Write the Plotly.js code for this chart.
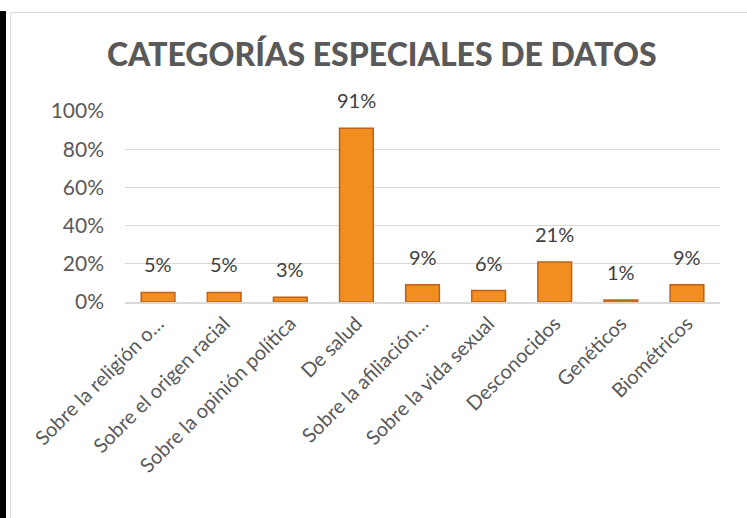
<!DOCTYPE html>
<html>
<head>
<meta charset="utf-8">
<script src="https://cdn.plot.ly/plotly-3.0.1.min.js"></script>
<style>
  html, body { margin: 0; padding: 0; background: #fff; }
  #wrap { position: relative; width: 747px; height: 518px; overflow: hidden; }
  #blackbar { position: absolute; left: 0; top: 11px; width: 6px; height: 507px; background: #000; }
  #frame { position: absolute; left: 10px; top: 12px; width: 740px; height: 520px; border: 1px solid #d9d9d9; box-sizing: border-box; }
  #chart { position: absolute; left: 0; top: 0; width: 747px; height: 518px; }
</style>
</head>
<body>
<div id="wrap">
  <div id="blackbar"></div>
  <div id="frame"></div>
  <div id="chart"></div>
</div>
<script>
const categories = [
  "Sobre la religión o…",
  "Sobre el origen racial",
  "Sobre la opinión política",
  "De salud",
  "Sobre la afiliación…",
  "Sobre la vida sexual",
  "Desconocidos",
  "Genéticos",
  "Biométricos"
];
const values = [0.05, 0.05, 0.025, 0.91, 0.09, 0.06, 0.21, 0.01, 0.09];
const labels = ["5%", "5%", "3%", "91%", "9%", "6%", "21%", "1%", "9%"];
const yTickVals = [0, 0.2, 0.4, 0.6, 0.8, 1.0];
const yTickText = ["0%", "20%", "40%", "60%", "80%", "100%"];

const FONT = "Lato, 'Open Sans', sans-serif";
const GRAY = "#595959";

const trace = {
  type: "bar",
  x: categories,
  y: values,
  marker: { color: "#F28E1F", line: { color: "#BF6119", width: 1.5 } },
  hoverinfo: "skip"
};

const annotations = categories.map((c, i) => ({
  x: c, y: values[i], xref: "x", yref: "y",
  text: labels[i], showarrow: false,
  yanchor: "bottom", yshift: 14,
  font: { family: FONT, size: 20, color: "#404040" }
}));

const layout = {
  width: 747, height: 518,
  paper_bgcolor: "rgba(0,0,0,0)",
  plot_bgcolor: "rgba(0,0,0,0)",
  margin: { l: 125, r: 27, t: 111, b: 216 },
  bargap: 0.49,
  showlegend: false,
  title: {
    text: "CATEGORÍAS ESPECIALES DE DATOS",
    x: 0.511, xref: "container", xanchor: "center",
    y: 0.895, yref: "container", yanchor: "middle",
    font: { family: FONT, size: 32, weight: 900, color: GRAY }
  },
  xaxis: {
    type: "category",
    tickangle: -45,
    tickfont: { family: FONT, size: 20, color: GRAY },
    showgrid: false,
    showline: true, linecolor: "#d9d9d9", linewidth: 2,
    ticks: "", fixedrange: true
  },
  yaxis: {
    range: [0, 1],
    tickvals: yTickVals, ticktext: yTickText,
    tickfont: { family: FONT, size: 21, color: GRAY },
    showgrid: true, gridcolor: "#d9d9d9", gridwidth: 1,
    zeroline: false, showline: false, ticks: "",
    ticklabelstandoff: 20, fixedrange: true
  },
  annotations: annotations
};

Plotly.newPlot("chart", [trace], layout, { displayModeBar: false, staticPlot: true });
</script>
</body>
</html>
